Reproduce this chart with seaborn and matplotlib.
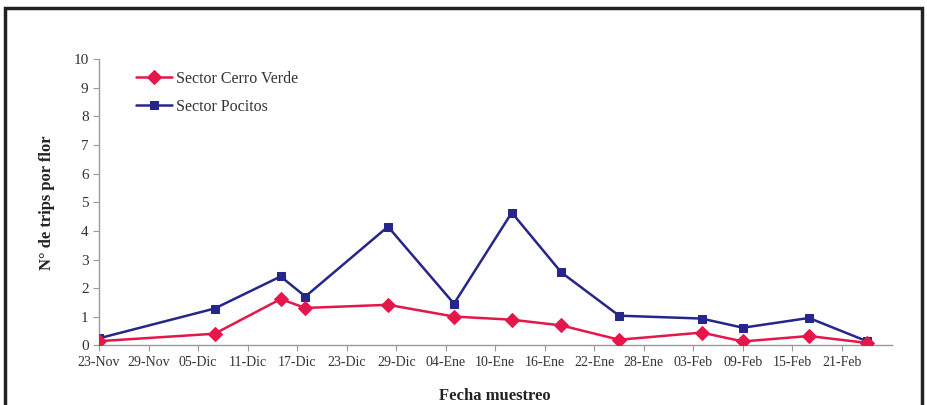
import pandas as pd
import matplotlib
matplotlib.use("Agg")
import matplotlib.pyplot as plt
import seaborn as sns
from matplotlib.patches import Rectangle

# sampling dates and counts
fechas = ["2007-11-23", "2007-12-07", "2007-12-15", "2007-12-18", "2007-12-28",
          "2008-01-05", "2008-01-12", "2008-01-18", "2008-01-25", "2008-02-04",
          "2008-02-09", "2008-02-17", "2008-02-24"]
cerro_verde = [0.15, 0.41, 1.62, 1.31, 1.42, 1.01, 0.90, 0.70, 0.20, 0.45, 0.14, 0.33, 0.09]
pocitos = [0.25, 1.29, 2.41, 1.71, 4.15, 1.46, 4.64, 2.55, 1.04, 0.94, 0.62, 0.96, 0.15]

tick_labels = ["23-Nov", "29-Nov", "05-Dic", "11-Dic", "17-Dic", "23-Dic", "29-Dic", "04-Ene",
               "10-Ene", "16-Ene", "22-Ene", "28-Ene", "03-Feb", "09-Feb", "15-Feb", "21-Feb"]

df = pd.DataFrame({"fecha": pd.to_datetime(fechas),
                   "Sector Cerro Verde": cerro_verde,
                   "Sector Pocitos": pocitos})

sns.set_style("white")
plt.rcParams["font.family"] = ["Liberation Serif", "DejaVu Serif"]

fig = plt.figure(figsize=(9.28, 4.05), dpi=100)
ax = fig.add_axes([0.1067, 0.147, 0.854, 0.707])

rojo = "#E5164A"
azul = "#26268A"

sns.lineplot(data=df, x="fecha", y="Sector Pocitos", ax=ax, color=azul, marker="s",
             markersize=5.5, markeredgecolor=azul, linewidth=1.8, label="Sector Pocitos", zorder=3)
sns.lineplot(data=df, x="fecha", y="Sector Cerro Verde", ax=ax, color=rojo, marker="D",
             markersize=7.5, markeredgecolor=rojo, linewidth=1.8, label="Sector Cerro Verde", zorder=4)

ticks = pd.date_range("2007-11-23", periods=len(tick_labels), freq="6D")
ax.set_xticks(ticks)
ax.set_xticklabels(tick_labels, fontsize=10, color="#333333")
ax.set_xlim(pd.Timestamp("2007-11-23"), pd.Timestamp("2008-02-27"))
ax.set_ylim(0, 10)
ax.set_yticks(range(0, 11))
ax.tick_params(axis="y", labelsize=11, colors="#333333", length=4, direction="out", left=True)
ax.tick_params(axis="x", length=4, direction="out", bottom=True, color="#999999")
ax.tick_params(axis="y", color="#999999")

for s in ["top", "right"]:
    ax.spines[s].set_visible(False)
for s in ["left", "bottom"]:
    ax.spines[s].set_color("#999999")
    ax.spines[s].set_linewidth(1)

ax.set_xlabel("Fecha muestreo", fontsize=12, fontweight="bold", color="#222222", labelpad=14)
ax.set_ylabel("N° de trips por flor", fontsize=12, fontweight="bold", color="#222222", labelpad=13)

h, l = ax.get_legend_handles_labels()
ax.legend(h[::-1], l[::-1], loc="upper left", bbox_to_anchor=(0.028, 1.01), frameon=False,
          fontsize=11.5, handlelength=2.3, handletextpad=0.2, labelspacing=0.75, labelcolor="#333333")

fig.add_artist(Rectangle((5 / 928, -0.1), 917 / 928, 1.1 - 8 / 405, fill=False,
                         edgecolor="#222222", linewidth=2.5, transform=fig.transFigure))

fig.savefig("out.png", dpi=100)
